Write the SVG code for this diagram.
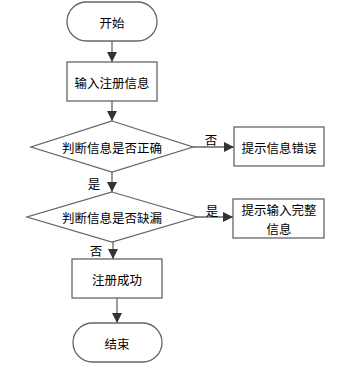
<svg xmlns="http://www.w3.org/2000/svg" width="345" height="367" viewBox="0 0 345 367">
<style>
.s{fill:#fff;stroke:#666;stroke-width:1.3}
.t{font-family:"Noto Sans CJK SC","Liberation Sans",sans-serif;font-size:12.5px;fill:#000;text-anchor:middle;dominant-baseline:central}
.c{stroke:#666;stroke-width:1.3;fill:none}
</style>
<defs>
<marker id="a" viewBox="0 0 10 10" refX="10" refY="5" markerWidth="10" markerHeight="10" markerUnits="userSpaceOnUse" orient="auto">
<path d="M0,0 L10,5 L0,10 Z" fill="#333"/>
</marker>
</defs>
<g id="connectors">
<line class="c" x1="112" y1="41" x2="112" y2="62" marker-end="url(#a)"/>
<line class="c" x1="112" y1="101" x2="112" y2="121" marker-end="url(#a)"/>
<line class="c" x1="193" y1="147" x2="234" y2="147" marker-end="url(#a)"/>
<line class="c" x1="112" y1="172" x2="112" y2="192" marker-end="url(#a)"/>
<line class="c" x1="197" y1="217" x2="233" y2="217" marker-end="url(#a)"/>
<line class="c" x1="113" y1="242" x2="113" y2="259" marker-end="url(#a)"/>
<line class="c" x1="117" y1="298" x2="117" y2="323" marker-end="url(#a)"/>
<text class="t" x="211" y="139">否</text>
<text class="t" x="94" y="183">是</text>
<text class="t" x="212" y="210">是</text>
<text class="t" x="96" y="250">否</text>
</g>
<g id="start">
<rect class="s" x="67" y="2" width="90" height="39" rx="19.5"/>
<text class="t" x="112" y="22">开始</text>
</g>
<g id="input">
<rect class="s" x="67" y="62" width="90" height="39"/>
<text class="t" x="112" y="82">输入注册信息</text>
</g>
<g id="check1">
<polygon class="s" points="112,121 193,147 112,172 31,147"/>
<text class="t" x="112" y="147">判断信息是否正确</text>
</g>
<g id="err">
<rect class="s" x="234" y="127" width="90" height="39"/>
<text class="t" x="279" y="147">提示信息错误</text>
</g>
<g id="check2">
<polygon class="s" points="112,192 197,217 112,242 27,217"/>
<text class="t" x="112" y="217">判断信息是否缺漏</text>
</g>
<g id="complete">
<rect class="s" x="233" y="199" width="91" height="39"/>
<text class="t" x="279" y="209">提示输入完整</text>
<text class="t" x="279" y="228">信息</text>
</g>
<g id="success">
<rect class="s" x="72" y="259" width="90" height="39"/>
<text class="t" x="117" y="279">注册成功</text>
</g>
<g id="end">
<rect class="s" x="73" y="323" width="89" height="39" rx="19.5"/>
<text class="t" x="117" y="343">结束</text>
</g>
</svg>
